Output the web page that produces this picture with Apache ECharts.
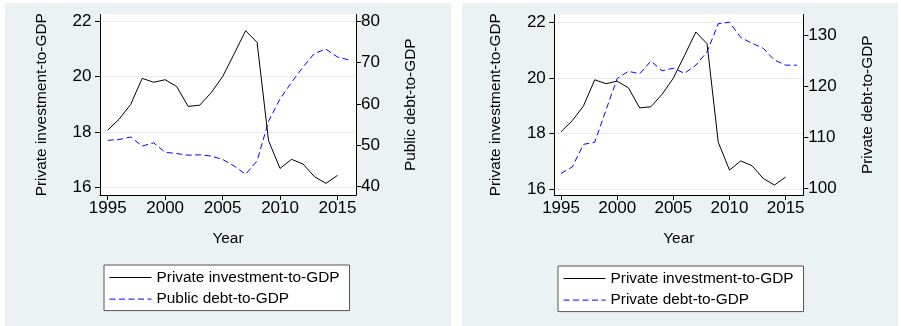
<!DOCTYPE html>
<html>
<head>
<meta charset="utf-8">
<script src="https://cdn.jsdelivr.net/npm/echarts@6/dist/echarts.min.js"></script>
<style>
html,body{margin:0;padding:0;background:#fff;}
#c{width:901px;height:326px;}
</style>
</head>
<body>
<div id="c"></div>
<script>
const invYears = [1995,1996,1997,1998,1999,2000,2001,2002,2003,2004,2005,2006,2007,2008,2009,2010,2011,2012,2013,2014,2015];
const debtYears = [1995,1996,1997,1998,1999,2000,2001,2002,2003,2004,2005,2006,2007,2008,2009,2010,2011,2012,2013,2014,2015,2016];
const privateInvestment = [18.06,18.46,18.99,19.93,19.79,19.88,19.64,18.92,18.96,19.41,19.99,20.81,21.65,21.23,17.68,16.68,17.01,16.84,16.38,16.14,16.43];
const publicDebt = [51.2,51.4,52.0,49.8,50.6,48.3,48.0,47.6,47.7,47.4,46.6,45.0,43.0,46.2,55.8,61.2,65.2,68.9,72.2,73.2,71.3,70.6];
const privateDebt = [102.9,104.2,108.6,109.0,115.3,121.5,122.9,122.4,124.9,123.0,123.5,122.5,124.1,126.7,132.2,132.5,129.5,128.4,127.4,125.1,124.1,124.1];

const xTicks = [1995,2000,2005,2010,2015];
const investTicks = [16,18,20,22];
const publicDebtTicks = [40,50,60,70,80];
const privateDebtTicks = [100,110,120,130];

const nameInv = 'Private investment-to-GDP';
const namePub = 'Public debt-to-GDP';
const namePriv = 'Private debt-to-GDP';

const FONT = 'Liberation Sans, Arial, sans-serif';
const BLUE = '#0000ff';
const pairs = (xs, ys) => ys.map((v, i) => [xs[i], v]);

function xAxis(gridIndex, min, max) {
  return {
    type: 'value', gridIndex, min, max,
    name: 'Year', nameLocation: 'middle', nameGap: 36,
    nameTextStyle: {fontFamily: FONT, fontSize: 15.4, color: '#000'},
    axisLine: {show: true, onZero: false, lineStyle: {color: '#000', width: 1}},
    axisTick: {show: true, length: 5, lineStyle: {color: '#000'}, customValues: xTicks},
    axisLabel: {fontFamily: FONT, fontSize: 17, color: '#000', margin: 5, customValues: xTicks, formatter: v => String(v)},
    splitLine: {show: false}
  };
}
function yAxis(gridIndex, pos, min, max, ticks, name, nameGap, margin, grid) {
  return {
    type: 'value', gridIndex, position: pos, min, max,
    name, nameLocation: 'middle', nameGap, nameRotate: 90,
    nameTextStyle: {fontFamily: FONT, fontSize: 15.4, color: '#000'},
    axisLine: {show: true, onZero: false, lineStyle: {color: '#000', width: 1}},
    axisTick: {show: true, length: 5, lineStyle: {color: '#000'}, customValues: ticks},
    axisLabel: {fontFamily: FONT, fontSize: 17, color: '#000', margin, customValues: ticks, formatter: v => String(v)},
    splitLine: {show: grid, lineStyle: {color: '#e3ecee', width: 1}}
  };
}
function legend(left, top, dashedName) {
  return {
    orient: 'vertical', left, top,
    data: [
      {name: nameInv, lineStyle: {color: '#000', type: 'solid', width: 1}},
      {name: dashedName, lineStyle: {color: BLUE, type: [6, 3.5], width: 1}}
    ],
    itemWidth: 42, itemHeight: 15, itemGap: 6.6,
    padding: [5, 10, 4, 5],
    backgroundColor: '#fff', borderColor: '#555', borderWidth: 1, borderRadius: 0,
    itemStyle: {opacity: 0},
    lineStyle: {width: 1},
    textStyle: {fontFamily: FONT, fontSize: 15.4, color: '#000'},
    selectedMode: false
  };
}
const solid = {color: '#000', width: 1, type: 'solid'};
const dashed = {color: BLUE, width: 1, type: [6, 3.5]};

const chart = echarts.init(document.getElementById('c'), null, {renderer: 'canvas'});
chart.setOption({
  backgroundColor: '#fff',
  animation: false,
  graphic: [
    {type: 'rect', z: -10, shape: {x: 5, y: 3, width: 446, height: 323}, style: {fill: '#eaf2f3'}, silent: true},
    {type: 'rect', z: -10, shape: {x: 462, y: 3, width: 436, height: 323}, style: {fill: '#eaf2f3'}, silent: true}
  ],
  grid: [
    {left: 100, top: 14.5, width: 256, height: 180.5, show: true, backgroundColor: '#fff', borderWidth: 0},
    {left: 554.3, top: 14.5, width: 249, height: 180.5, show: true, backgroundColor: '#fff', borderWidth: 0}
  ],
  xAxis: [xAxis(0, 1994.33, 2016.61), xAxis(1, 1994.40, 2016.57)],
  yAxis: [
    yAxis(0, 'left', 15.722, 22.234, investTicks, nameInv, 51, 8.5, true),
    yAxis(0, 'right', 38.0, 81.57, publicDebtTicks, namePub, 47, 5, false),
    yAxis(1, 'left', 15.784, 22.28, investTicks, nameInv, 51, 8.5, true),
    yAxis(1, 'right', 98.69, 134.01, privateDebtTicks, namePriv, 57, 5, false)
  ],
  legend: [legend(104, 265, namePub), legend(558, 266, namePriv)],
  series: [
    {name: nameInv, type: 'line', xAxisIndex: 0, yAxisIndex: 0, data: pairs(invYears, privateInvestment), symbol: 'none', lineStyle: solid, itemStyle: {color: '#000'}},
    {name: namePub, type: 'line', xAxisIndex: 0, yAxisIndex: 1, data: pairs(debtYears, publicDebt), symbol: 'none', lineStyle: dashed, itemStyle: {color: BLUE}},
    {name: nameInv, type: 'line', xAxisIndex: 1, yAxisIndex: 2, data: pairs(invYears, privateInvestment), symbol: 'none', lineStyle: solid, itemStyle: {color: '#000'}},
    {name: namePriv, type: 'line', xAxisIndex: 1, yAxisIndex: 3, data: pairs(debtYears, privateDebt), symbol: 'none', lineStyle: dashed, itemStyle: {color: BLUE}}
  ]
});
</script>
</body>
</html>
